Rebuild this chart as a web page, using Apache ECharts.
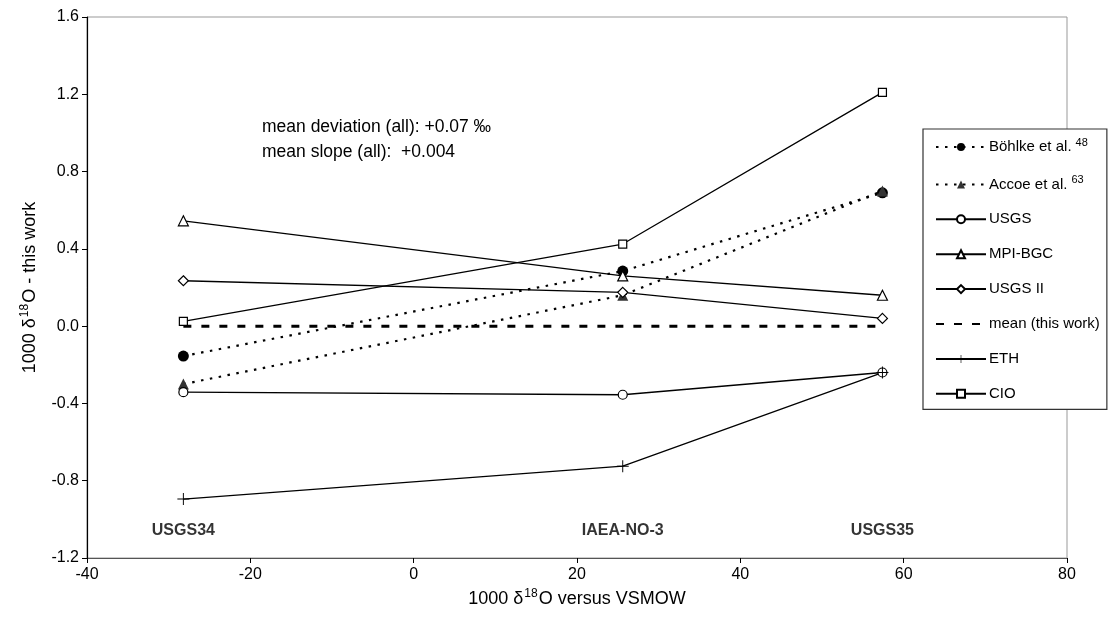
<!DOCTYPE html>
<html>
<head>
<meta charset="utf-8">
<script src="https://cdn.jsdelivr.net/npm/echarts@6/dist/echarts.min.js"></script>
<style>html,body{margin:0;padding:0;background:#fff;}#c{width:1117px;height:626px;}</style>
</head>
<body>
<div id="c"></div>
<script>
const refMaterials = ['USGS34', 'IAEA-NO-3', 'USGS35'];
const xValues = [-28.2, 25.6, 57.4];
const labelY = -1.06;
const bohlke = [-0.155, 0.285, 0.69];
const accoe = [-0.30, 0.16, 0.70];
const usgs = [-0.342, -0.355, -0.24];
const mpiBgc = [0.545, 0.26, 0.16];
const usgsII = [0.235, 0.175, 0.04];
const meanWork = [0, 0, 0];
const eth = [-0.895, -0.725, -0.24];
const cio = [0.025, 0.425, 1.21];
const xTicks = [-40, -20, 0, 20, 40, 60, 80];

const FONT = 'Liberation Sans, Arial, sans-serif';
const pts = arr => xValues.map((x, i) => [x, arr[i]]);
const plusPath = 'path://M-0.08,-1H0.08V-0.08H1V0.08H0.08V1H-0.08V0.08H-1V-0.08H-0.08Z';

function lineSeries(name, data, opts) {
  return Object.assign({
    name: name,
    type: 'line',
    data: pts(data),
    symbol: 'circle',
    symbolSize: 9,
    lineStyle: { color: '#000', width: 1.3, type: 'solid' },
    itemStyle: { color: '#fff', borderColor: '#000', borderWidth: 1.2 },
    emphasis: { disabled: true },
    animation: false,
    z: 3
  }, opts);
}

const series = [
  lineSeries('Böhlke', bohlke, {
    symbol: 'circle', symbolSize: 11,
    lineStyle: { color: '#000', width: 2.2, type: [2.5, 6.5] },
    itemStyle: { color: '#000', borderColor: '#000', borderWidth: 0 }
  }),
  lineSeries('Accoe', accoe, {
    symbol: 'triangle', symbolSize: 11,
    lineStyle: { color: '#000', width: 2.2, type: [2.5, 6.5] },
    itemStyle: { color: '#333', borderColor: '#333', borderWidth: 0 }
  }),
  lineSeries('USGS', usgs, { symbol: 'circle', symbolSize: 9 }),
  lineSeries('MPI-BGC', mpiBgc, { symbol: 'triangle', symbolSize: 10 }),
  lineSeries('USGS II', usgsII, { symbol: 'diamond', symbolSize: 10 }),
  lineSeries('mean (this work)', meanWork, {
    symbol: 'none', showSymbol: false,
    lineStyle: { color: '#000', width: 3, type: [8, 10] }, z: 2
  }),
  lineSeries('ETH', eth, {
    symbol: plusPath, symbolSize: 12,
    itemStyle: { color: '#000', borderColor: '#000', borderWidth: 0 }
  }),
  lineSeries('CIO', cio, { symbol: 'rect', symbolSize: 8 }),
  {
    name: 'labels',
    type: 'scatter',
    data: xValues.map((x, i) => ({ value: [x, labelY], name: refMaterials[i] })),
    symbolSize: 0,
    silent: true,
    animation: false,
    label: {
      show: true, position: 'inside', formatter: p => p.name,
      fontFamily: FONT, fontWeight: 'bold', fontSize: 16, color: '#000'
    }
  }
];

const legendNames = {
  'Böhlke': '{t|Böhlke et al.}{s|48}',
  'Accoe': '{t|Accoe et al.}{s|63}'
};
const transparentItem = { color: 'rgba(0,0,0,0)', borderColor: 'rgba(0,0,0,0)', borderWidth: 0 };

const axisNameRich = {
  t: { fontSize: 18, lineHeight: 22, fontFamily: FONT, color: '#000' },
  s: { fontSize: 12, lineHeight: 12, fontFamily: FONT, color: '#000', verticalAlign: 'top', padding: [0, 1, 0, 1] }
};

const chart = echarts.init(document.getElementById('c'));
chart.setOption({
  backgroundColor: '#fff',
  animation: false,
  textStyle: { fontFamily: FONT },
  grid: {
    left: 87, right: 50, top: 17, bottom: 68,
    show: true, borderColor: '#999', borderWidth: 1, backgroundColor: 'transparent'
  },
  xAxis: {
    type: 'value', min: -40, max: 80, interval: 20,
    name: '{t|1000 δ}{s|18}{t|O versus VSMOW}',
    nameLocation: 'middle', nameGap: 30,
    nameTextStyle: { rich: axisNameRich },
    axisLine: { show: true, onZero: false, lineStyle: { color: '#555', width: 1 } },
    axisTick: { show: true, inside: false, length: 5, lineStyle: { color: '#000' } },
    axisLabel: { fontSize: 16, color: '#000', margin: 9, fontFamily: FONT,
      customValues: xTicks, formatter: v => String(v) },
    splitLine: { show: false }
  },
  yAxis: {
    type: 'value', min: -1.2, max: 1.6, interval: 0.4,
    name: '{t|1000 δ}{s|18}{t|O - this work}',
    nameLocation: 'middle', nameGap: 46, nameRotate: 90,
    nameTextStyle: { rich: axisNameRich },
    axisLine: { show: true, onZero: false, lineStyle: { color: '#000', width: 1.2 } },
    axisTick: { show: true, inside: false, length: 5, lineStyle: { color: '#000' } },
    axisLabel: { fontSize: 16, color: '#000', margin: 8, fontFamily: FONT,
      formatter: v => (Math.round(v * 10) / 10).toFixed(1) },
    splitLine: { show: false }
  },
  legend: {
    orient: 'vertical',
    left: 923, top: 129,
    padding: [8, 7, 8, 12],
    itemGap: 19.9,
    itemWidth: 50, itemHeight: 10,
    backgroundColor: '#fff',
    borderColor: '#333', borderWidth: 1.2, borderRadius: 0,
    selectedMode: false,
    data: ['Böhlke', 'Accoe', 'USGS', 'MPI-BGC', 'USGS II',
      { name: 'mean (this work)', itemStyle: transparentItem }, 'ETH', 'CIO'],
    formatter: n => legendNames[n] || ('{t|' + n + '}'),
    textStyle: {
      fontFamily: FONT, fontSize: 15, color: '#000', padding: [0, 0, 0, -2],
      rich: {
        t: { fontSize: 15, lineHeight: 20, fontFamily: FONT, color: '#000' },
        s: { fontSize: 11, lineHeight: 11, fontFamily: FONT, color: '#000', verticalAlign: 'top', padding: [0, 0, 0, 4] }
      }
    }
  },
  graphic: [
    { type: 'text', left: 262, top: 118, silent: true,
      style: { text: 'mean deviation (all): +0.07 ‰', fontSize: 17.5, fontFamily: FONT, fill: '#000' } },
    { type: 'text', left: 262, top: 143, silent: true,
      style: { text: 'mean slope (all):  +0.004', fontSize: 17.5, fontFamily: FONT, fill: '#000' } }
  ],
  series: series
});
</script>
</body>
</html>
